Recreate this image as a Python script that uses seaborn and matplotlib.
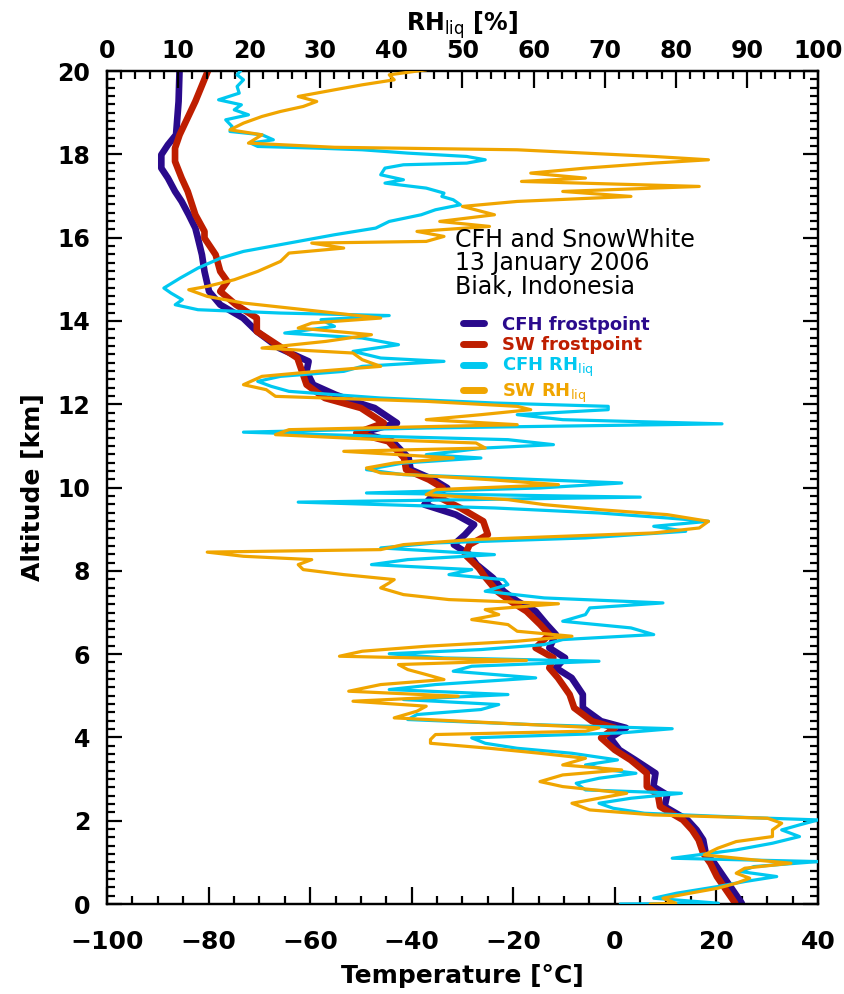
import matplotlib
matplotlib.use("Agg")
import matplotlib.pyplot as plt
from matplotlib.lines import Line2D
from matplotlib.ticker import MultipleLocator
import seaborn as sns
import pandas as pd

# ---- sounding profiles (altitude in km, top to bottom) ----
cfh_fp_alt = [20.07, 19.27, 18.47, 18.23, 17.99, 17.67, 17.43, 17.11, 16.87, 16.55, 16.23,
              15.99, 15.59, 15.19, 14.71, 14.39, 14.07, 13.75, 13.35, 13.03, 12.79, 12.47,
              12.23, 12.05, 11.91, 11.55, 11.31, 11.11, 10.71, 10.43, 10.19, 9.99, 9.83,
              9.59, 9.35, 9.11, 8.87, 8.63, 8.39, 8.15, 7.83, 7.51, 7.27, 7.03, 6.71, 6.47,
              6.15, 5.91, 5.67, 5.43, 5.03, 4.71, 4.39, 4.23, 3.99, 3.70, 3.46, 3.14, 2.82,
              2.62, 2.34, 2.02, 1.78, 1.54, 1.22, 0.98, 0.66, 0.34, 0.02]
cfh_fp_temp = [-85.7, -85.9, -86.4, -88.0, -89.3, -89.3, -88.0, -86.6, -85.3, -83.9, -82.6,
               -82.1, -81.3, -80.8, -79.9, -77.7, -73.2, -70.5, -66.1, -60.3, -60.7, -59.4,
               -55.0, -51.0, -47.3, -42.9, -50.0, -43.8, -40.6, -40.2, -35.7, -33.0, -35.7,
               -37.5, -31.3, -27.7, -29.5, -31.7, -28.6, -27.2, -24.0, -21.9, -19.2, -15.6,
               -13.4, -11.6, -12.9, -9.8, -11.6, -8.5, -6.3, -6.3, -2.7, 2.2, -0.9, 0.9, 4.0,
               8.0, 7.6, 10.3, 9.8, 14.3, 16.1, 17.4, 17.9, 19.6, 21.4, 23.2, 25.0]

sw_fp_alt = [20.07, 19.27, 18.47, 18.15, 17.83, 17.43, 17.11, 16.55, 16.15, 15.99, 15.59,
             15.19, 14.95, 14.71, 14.39, 14.07, 13.75, 13.43, 13.11, 12.79, 12.47, 12.15,
             11.91, 11.55, 11.31, 11.11, 10.71, 10.43, 10.19, 9.99, 9.83, 9.51, 9.19, 8.87,
             8.63, 8.39, 8.07, 7.83, 7.51, 7.27, 7.03, 6.71, 6.47, 6.15, 5.91, 5.67, 5.43,
             5.03, 4.71, 4.39, 4.23, 3.99, 3.70, 3.46, 3.14, 2.82, 2.62, 2.34, 2.02, 1.78,
             1.54, 1.22, 0.98, 0.66, 0.34, 0.02]
sw_fp_temp = [-79.9, -82.6, -85.7, -86.6, -86.6, -85.3, -84.1, -82.6, -80.8, -80.8, -78.6,
              -77.7, -76.3, -77.7, -74.6, -70.5, -70.5, -66.5, -62.5, -61.6, -60.7, -57.1,
              -50.0, -45.5, -50.9, -44.6, -41.5, -41.1, -36.6, -33.9, -35.7, -30.4, -25.9,
              -25.0, -28.6, -29.5, -26.8, -25.4, -23.2, -20.5, -17.4, -14.7, -12.9, -15.6,
              -12.1, -12.9, -11.2, -8.9, -8.0, -4.5, 0.0, -2.7, 0.0, 3.1, 6.3, 6.3, 8.5, 8.9,
              13.4, 15.2, 16.5, 17.4, 18.8, 20.1, 21.9, 23.7]

cfh_rh_alt = [20.03, 19.91, 19.79, 19.63, 19.47, 19.31, 19.19, 19.07, 18.95, 18.83, 18.67,
              18.55, 18.47, 18.35, 18.27, 18.19, 18.15, 18.11, 18.03, 17.95, 17.87, 17.79,
              17.75, 17.67, 17.51, 17.39, 17.31, 17.19, 17.07, 16.99, 16.91, 16.79, 16.67,
              16.55, 16.39, 16.23, 16.07, 15.91, 15.83, 15.67, 15.51, 15.27, 15.03, 14.79,
              14.67, 14.51, 14.39, 14.27, 14.19, 14.13, 14.03, 13.87, 13.71, 13.59, 13.43,
              13.27, 13.11, 13.03, 12.91, 12.79, 12.67, 12.55, 12.43, 12.31, 12.15, 12.03,
              11.95, 11.87, 11.75, 11.63, 11.53, 11.43, 11.33, 11.23, 11.15, 11.03, 10.95,
              10.79, 10.71, 10.59, 10.43, 10.31, 10.21, 10.11, 9.99, 9.87, 9.77, 9.65, 9.51,
              9.39, 9.27, 9.19, 9.07, 8.95, 8.79, 8.67, 8.55, 8.39, 8.27, 8.15, 8.03, 7.91,
              7.79, 7.67, 7.51, 7.35, 7.23, 7.11, 6.95, 6.79, 6.63, 6.47, 6.35, 6.23, 6.11,
              6.01, 5.91, 5.83, 5.71, 5.59, 5.43, 5.27, 5.15, 5.03, 4.91, 4.79, 4.67, 4.55,
              4.43, 4.31, 4.21, 4.11, 3.99, 3.86, 3.74, 3.62, 3.46, 3.34, 3.22, 3.14, 3.02,
              2.90, 2.74, 2.66, 2.54, 2.42, 2.30, 2.18, 2.08, 2.02, 1.90, 1.78, 1.62, 1.46,
              1.30, 1.10, 1.02, 0.90, 0.78, 0.66, 0.54, 0.42, 0.26, 0.14, 0.02, 0.00]
cfh_rh = [18.9, 18.3, 19.2, 18.3, 18.6, 15.7, 18.9, 17.9, 19.9, 16.7, 17.6,
          17.3, 21.8, 23.4, 20.2, 21.2, 29.5, 35.9, 42.3, 50.6, 53.2, 50.6,
          41.7, 39.1, 38.5, 41.7, 39.1, 44.9, 47.4, 47.1, 48.7, 49.7, 46.2,
          44.2, 39.7, 37.8, 32.0, 26.9, 24.4, 19.2, 16.0, 12.8, 10.3, 8.0,
          9.0, 10.6, 9.6, 12.8, 24.4, 39.7, 30.1, 32.0, 25.0, 35.9, 41.0,
          34.6, 38.5, 47.4, 35.9, 33.3, 24.4, 21.2, 23.1, 25.6, 38.5, 54.5,
          70.5, 70.5, 57.7, 64.1, 86.5, 44.9, 19.2, 38.5, 56.4, 62.8, 53.2,
          44.9, 52.6, 41.7, 36.5, 41.7, 57.7, 72.4, 60.9, 36.5, 75.0, 26.9, 54.5,
          69.2, 78.8, 84.6, 76.9, 81.4, 67.3, 46.2, 38.5, 54.5, 42.3, 37.2, 51.3, 48.1,
          55.8, 56.4, 53.2, 61.5, 78.2, 67.9, 67.3, 64.1, 73.7, 76.9, 64.1, 61.5, 52.6,
          39.7, 47.4, 69.2, 51.3, 48.7, 60.3, 46.2, 39.7, 56.4, 41.7, 55.1, 52.6, 43.6,
          42.3, 59.6, 79.5, 72.4, 51.3, 53.2, 57.7, 65.4, 71.8, 67.3, 70.5, 74.4, 69.2,
          66.0, 67.3, 80.8, 73.7, 69.2, 71.2, 75.6, 89.7, 100.0, 97.4, 94.9, 97.4, 93.6,
          88.5, 79.5, 100.0, 91.0, 89.1, 94.2, 89.7, 85.9, 80.1, 76.9, 86.0, 72.2]

sw_rh_alt = [20.03, 19.91, 19.79, 19.67, 19.55, 19.39, 19.27, 19.15, 19.03, 18.91, 18.75,
             18.59, 18.47, 18.27, 18.17, 18.11, 18.03, 17.95, 17.87, 17.79, 17.67, 17.55,
             17.43, 17.35, 17.23, 17.11, 16.99, 16.87, 16.75, 16.55, 16.39, 16.27, 16.15,
             16.03, 15.91, 15.87, 15.75, 15.63, 15.43, 15.19, 14.99, 14.83, 14.75, 14.59,
             14.43, 14.31, 14.19, 14.07, 13.95, 13.83, 13.67, 13.51, 13.35, 13.23, 13.07,
             12.91, 12.79, 12.67, 12.47, 12.35, 12.19, 12.07, 11.95, 11.87, 11.75, 11.63,
             11.51, 11.39, 11.27, 11.15, 11.07, 10.95, 10.87, 10.71, 10.59, 10.47, 10.35,
             10.19, 10.07, 9.95, 9.83, 9.71, 9.59, 9.47, 9.35, 9.19, 9.03, 8.91, 8.83, 8.75,
             8.63, 8.51, 8.45, 8.35, 8.27, 8.15, 8.03, 7.91, 7.79, 7.71, 7.59, 7.43, 7.31,
             7.21, 7.07, 6.95, 6.83, 6.71, 6.55, 6.43, 6.31, 6.19, 6.07, 5.95, 5.85, 5.75,
             5.63, 5.51, 5.39, 5.27, 5.11, 4.99, 4.87, 4.75, 4.63, 4.47, 4.35, 4.23, 4.15,
             4.07, 3.95, 3.86, 3.74, 3.62, 3.50, 3.34, 3.22, 3.10, 2.94, 2.82, 2.66, 2.54,
             2.42, 2.26, 2.14, 2.06, 1.94, 1.78, 1.62, 1.50, 1.34, 1.18, 1.06, 0.98, 0.86,
             0.74, 0.62, 0.50, 0.38, 0.26, 0.14, 0.02, 0.00]
sw_rh = [44.9, 39.7, 40.4, 35.9, 32.0, 26.9, 29.5, 27.6, 24.4, 21.8, 19.2,
         17.3, 21.8, 19.9, 32.0, 57.7, 67.3, 76.9, 84.6, 76.9, 67.3, 59.6,
         67.3, 58.3, 83.3, 64.1, 73.7, 57.7, 50.0, 54.5, 46.8, 53.8, 43.6,
         47.4, 44.9, 28.8, 33.3, 25.6, 24.4, 21.2, 17.9, 14.1, 11.5, 14.1,
         19.2, 25.6, 32.0, 38.5, 28.8, 26.9, 37.2, 30.8, 21.8, 34.6, 35.9,
         38.5, 29.5, 21.8, 19.2, 22.4, 23.7, 44.9, 57.7, 59.6, 52.6, 44.9,
         57.7, 25.6, 23.7, 38.5, 51.9, 53.2, 33.3, 48.7, 40.4, 36.5, 38.5,
         53.8, 63.5, 46.2, 44.9, 56.4, 61.5, 69.2, 78.8, 84.6, 83.3, 76.9, 64.1, 51.3,
         41.7, 38.5, 14.1, 19.2, 28.8, 26.9, 27.6, 33.3, 40.4, 39.7, 38.5, 41.7, 48.1,
         63.5, 53.2, 55.1, 51.3, 56.4, 57.7, 65.4, 57.7, 44.9, 35.9, 32.7, 59.0, 41.0,
         42.3, 44.9, 47.4, 38.5, 34.0, 49.4, 34.6, 44.9, 43.6, 40.4, 54.5, 69.2, 67.3,
         46.2, 45.5, 45.5, 53.8, 60.9, 67.3, 64.1, 72.4, 64.1, 60.9, 64.1, 73.1, 69.2,
         65.4, 67.9, 76.9, 92.9, 94.9, 93.6, 93.6, 88.5, 85.9, 84.0, 91.0, 96.2, 89.7,
         88.5, 90.4, 88.5, 85.9, 82.0, 78.2, 80.0, 76.4]

temp_ticks = [-100, -80, -60, -40, -20, 0, 20, 40]
rh_ticks = [0, 10, 20, 30, 40, 50, 60, 70, 80, 90, 100]
alt_ticks = [0, 2, 4, 6, 8, 10, 12, 14, 16, 18, 20]

series_names = ["CFH frostpoint", "SW frostpoint", "CFH RH$_{\\mathrm{liq}}$", "SW RH$_{\\mathrm{liq}}$"]
colors = ["#2a0a8c", "#be1e00", "#00c8f0", "#f0a500"]

sns.set_theme(style="ticks")
plt.rcParams["font.family"] = ["DejaVu Sans"]
plt.rcParams.update({
    "axes.linewidth": 1.6,
    "axes.edgecolor": "black",
    "axes.labelcolor": "black",
    "text.color": "black",
    "xtick.color": "black",
    "ytick.color": "black",
})

fig = plt.figure(figsize=(8.45, 9.94), dpi=100)
ax = fig.add_axes([0.1266, 0.0905, 0.8414, 0.838])
ax2 = ax.twiny()

fp_cfh = pd.DataFrame({"alt": cfh_fp_alt, "val": cfh_fp_temp})
fp_sw = pd.DataFrame({"alt": sw_fp_alt, "val": sw_fp_temp})
rh_cfh = pd.DataFrame({"alt": cfh_rh_alt, "val": cfh_rh})
rh_sw = pd.DataFrame({"alt": sw_rh_alt, "val": sw_rh})

sns.lineplot(data=fp_cfh, x="val", y="alt", sort=False, estimator=None,
             color=colors[0], lw=4.8, ax=ax, zorder=2)
sns.lineplot(data=fp_sw, x="val", y="alt", sort=False, estimator=None,
             color=colors[1], lw=4.8, ax=ax, zorder=3)
sns.lineplot(data=rh_cfh, x="val", y="alt", sort=False, estimator=None,
             color=colors[2], lw=2.3, ax=ax2, zorder=4)
sns.lineplot(data=rh_sw, x="val", y="alt", sort=False, estimator=None,
             color=colors[3], lw=2.3, ax=ax2, zorder=5)

ax.set_xlim(-100, 40)
ax.set_ylim(0, 20)
ax2.set_xlim(0, 100)
ax2.set_ylim(0, 20)

ax.set_xticks(temp_ticks)
ax.xaxis.set_minor_locator(MultipleLocator(5))
ax.set_yticks(alt_ticks)
ax.yaxis.set_minor_locator(MultipleLocator(0.2))
ax2.set_xticks(rh_ticks)
ax2.xaxis.set_minor_locator(MultipleLocator(2))

ax.tick_params(axis="x", which="major", direction="in", length=12, width=1.6,
               labelsize=18, pad=19)
ax.tick_params(axis="x", which="minor", direction="in", length=6, width=1.6)
ax.tick_params(axis="y", which="major", direction="in", length=11, width=1.6,
               labelsize=17, pad=12, right=True)
ax.tick_params(axis="y", which="minor", direction="in", length=6, width=1.6, right=True)
ax2.tick_params(axis="x", which="major", direction="in", length=12, width=1.6,
                labelsize=17, pad=6)
ax2.tick_params(axis="x", which="minor", direction="in", length=6, width=1.6)
for lab in ax.get_xticklabels() + ax.get_yticklabels() + ax2.get_xticklabels():
    lab.set_fontweight("bold")

ax.set_xlabel("Temperature [°C]", fontsize=18, fontweight="bold", labelpad=7)
ax.set_ylabel("Altitude [km]", fontsize=18, fontweight="bold", labelpad=9)
ax2.set_xlabel("RH$_{\\mathrm{liq}}$ [%]", fontsize=17, fontweight="bold", labelpad=6)

ax2.text(0.49, 0.812, "CFH and SnowWhite\n13 January 2006\nBiak, Indonesia",
         transform=ax.transAxes, ha="left", va="top", fontsize=17,
         linespacing=0.98, color="black", zorder=10)

handles = [Line2D([], [], color=c, lw=5) for c in colors]
leg = ax2.legend(handles, series_names, loc="upper left", bbox_to_anchor=(0.49, 0.715),
                 bbox_transform=ax.transAxes, frameon=False, fontsize=13,
                 handlelength=1.2, handletextpad=1.0, labelspacing=0.12,
                 labelcolor=colors, borderaxespad=0)
for t in leg.get_texts():
    t.set_fontweight("bold")

fig.savefig("out.png", dpi=100, facecolor="white")
